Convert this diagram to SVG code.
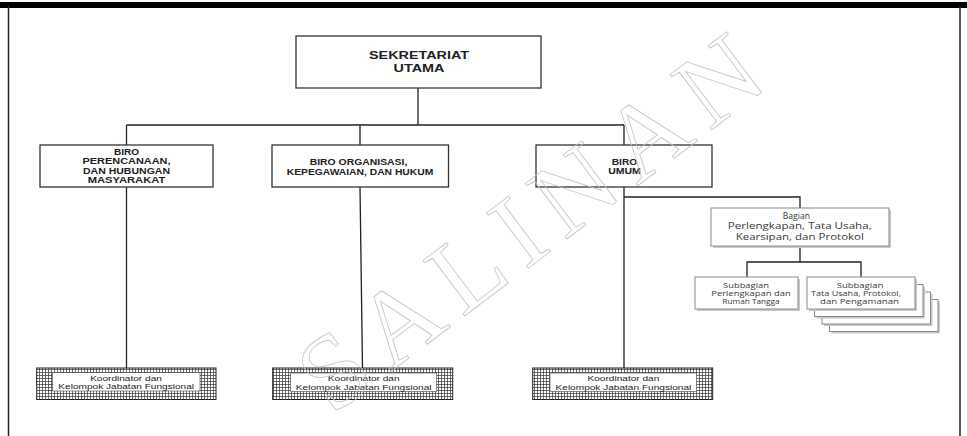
<svg xmlns="http://www.w3.org/2000/svg" width="967" height="436" viewBox="0 0 967 436">
  <style>
    .box { fill: #ffffff; stroke: #333333; stroke-width: 1.3; }
    .sbox { fill: #ffffff; stroke: #8a8a8a; stroke-width: 1; }
    .shadow { fill: #c8c8c8; }
    .conn { fill: none; stroke: #222222; stroke-width: 1.3; }
    .hb { font-family: "Liberation Sans", Arial, sans-serif; font-weight: bold; fill: #222222; text-anchor: middle; }
    .cal { font-family: "Open Sans", "Liberation Sans", sans-serif; fill: #3a3a3a; text-anchor: middle; }
    .ar { font-family: "Liberation Sans", Arial, sans-serif; fill: #222222; text-anchor: middle; font-size: 7.5px; }
    .grid { fill: url(#gridFill); stroke: #222222; stroke-width: 1; }
    .inner { fill: #ffffff; stroke: #444444; stroke-width: 0.6; }
    .wm { font-family: "Liberation Serif", "Times New Roman", serif; font-size: 106px; fill: none; stroke: #c4c4c4; stroke-width: 0.8; letter-spacing: 14px; text-anchor: middle; }
  </style>
  <defs>
    <pattern id="gridFill" width="3" height="3" patternUnits="userSpaceOnUse">
      <rect width="3" height="3" fill="#ffffff"/>
      <path d="M0 0.5H3M0.5 0V3" stroke="#333333" stroke-width="0.7"/>
    </pattern>
  </defs>

  <!-- page -->
  <rect x="0" y="0" width="967" height="436" fill="#ffffff"/>
  <rect x="0" y="2" width="967" height="6" fill="#000000"/>
  <line x1="8.5" y1="6" x2="8.5" y2="436" stroke="#222222" stroke-width="1.5"/>
  <line x1="960" y1="6" x2="960" y2="436" stroke="#222222" stroke-width="1.5"/>

  <!-- connectors -->
  <g id="connectors">
    <path class="conn" d="M418 88V125"/>
    <path class="conn" d="M126.5 125H624"/>
    <path class="conn" d="M126.5 125V145M360 125V145M624 125V145"/>
    <path class="conn" d="M126.5 187V368"/>
    <path class="conn" d="M360 187L362.5 368"/>
    <path class="conn" d="M624 187V368"/>
    <path class="conn" d="M624 197H800V208"/>
    <path class="conn" d="M800 246V262M747 277V262H861V277"/>
  </g>

  <g id="sekretariat-utama">
    <rect class="box" x="296" y="36" width="245" height="52"/>
    <text class="hb" x="419" y="59.3" font-size="11" textLength="100" lengthAdjust="spacingAndGlyphs">SEKRETARIAT</text>
    <text class="hb" x="419" y="71.7" font-size="11" textLength="51" lengthAdjust="spacingAndGlyphs">UTAMA</text>
  </g>

  <g id="biro-perencanaan">
    <rect class="box" x="40" y="145" width="173" height="42"/>
    <text class="hb" x="126.5" y="155" font-size="8.5" textLength="25" lengthAdjust="spacingAndGlyphs">BIRO</text>
    <text class="hb" x="126.5" y="164.3" font-size="8.5" textLength="88" lengthAdjust="spacingAndGlyphs">PERENCANAAN,</text>
    <text class="hb" x="126.5" y="174" font-size="8.5" textLength="87" lengthAdjust="spacingAndGlyphs">DAN HUBUNGAN</text>
    <text class="hb" x="126.5" y="183.3" font-size="8.5" textLength="77.6" lengthAdjust="spacingAndGlyphs">MASYARAKAT</text>
  </g>

  <g id="biro-organisasi">
    <rect class="box" x="272" y="145" width="176.5" height="42"/>
    <text class="hb" x="358.5" y="164.7" font-size="8.5" textLength="97.7" lengthAdjust="spacingAndGlyphs">BIRO ORGANISASI,</text>
    <text class="hb" x="360" y="175" font-size="8.5" textLength="146.6" lengthAdjust="spacingAndGlyphs">KEPEGAWAIAN,  DAN HUKUM</text>
  </g>

  <g id="biro-umum">
    <rect class="box" x="536" y="145" width="176" height="42"/>
    <text class="hb" x="624.5" y="165" font-size="8.5" textLength="25.6" lengthAdjust="spacingAndGlyphs">BIRO</text>
    <text class="hb" x="624.5" y="174.3" font-size="8.5" textLength="32.7" lengthAdjust="spacingAndGlyphs">UMUM</text>
  </g>

  <g id="bagian-perlengkapan">
    <rect class="shadow" x="713" y="210" width="178" height="38"/>
    <rect class="sbox" x="711" y="208" width="178" height="38"/>
    <text class="cal" x="796.4" y="219" font-size="8.5" textLength="27.3" lengthAdjust="spacingAndGlyphs">Bagian</text>
    <text class="cal" x="799.7" y="229.3" font-size="8.5" textLength="144" lengthAdjust="spacingAndGlyphs">Perlengkapan, Tata Usaha,</text>
    <text class="cal" x="799.8" y="240" font-size="8.5" textLength="128.3" lengthAdjust="spacingAndGlyphs">Kearsipan, dan Protokol</text>
  </g>

  <g id="subbagian-perlengkapan">
    <rect class="shadow" x="697" y="279" width="103" height="32"/>
    <rect class="sbox" x="695" y="277" width="103" height="32"/>
    <text class="cal" x="746" y="288" font-size="6.5" textLength="46" lengthAdjust="spacingAndGlyphs">Subbagian</text>
    <text class="cal" x="751" y="296" font-size="6.5" textLength="79.3" lengthAdjust="spacingAndGlyphs">Perlengkapan dan</text>
    <text class="cal" x="751" y="303.5" font-size="6.5" textLength="57.3" lengthAdjust="spacingAndGlyphs">Rumah Tangga</text>
  </g>

  <g id="subbagian-tata-usaha">
    <rect class="shadow" x="831.5" y="301.5" width="108.5" height="32"/>
    <rect class="sbox" x="829.5" y="299.5" width="108.5" height="32"/>
    <rect class="shadow" x="824" y="294" width="108.5" height="32"/>
    <rect class="sbox" x="822" y="292" width="108.5" height="32"/>
    <rect class="shadow" x="816.5" y="286.5" width="108.5" height="32"/>
    <rect class="sbox" x="814.5" y="284.5" width="108.5" height="32"/>
    <rect class="shadow" x="809" y="279" width="108" height="32"/>
    <rect class="sbox" x="807" y="277" width="108" height="32"/>
    <text class="cal" x="860" y="288" font-size="6.5" textLength="46.6" lengthAdjust="spacingAndGlyphs">Subbagian</text>
    <text class="cal" x="856" y="296" font-size="6.5" textLength="90" lengthAdjust="spacingAndGlyphs">Tata Usaha, Protokol,</text>
    <text class="cal" x="859.5" y="303.5" font-size="6.5" textLength="79" lengthAdjust="spacingAndGlyphs">dan Pengamanan</text>
  </g>

  <g id="koordinator-1">
    <rect class="grid" x="36.7" y="368" width="179.3" height="31.5"/>
    <rect class="inner" x="52.7" y="372.7" width="147.3" height="18.3"/>
    <text class="ar" x="126" y="380.7" textLength="71.7" lengthAdjust="spacingAndGlyphs">Koordinator dan</text>
    <text class="ar" x="126.2" y="389.3" textLength="135.7" lengthAdjust="spacingAndGlyphs">Kelompok Jabatan Fungsional</text>
  </g>

  <g id="koordinator-2">
    <rect class="grid" x="272.7" y="368" width="180" height="31.5"/>
    <rect class="inner" x="290.7" y="373" width="146" height="18.5"/>
    <text class="ar" x="363.7" y="380.9" textLength="71.7" lengthAdjust="spacingAndGlyphs">Koordinator dan</text>
    <text class="ar" x="363.7" y="389.6" textLength="135.7" lengthAdjust="spacingAndGlyphs">Kelompok Jabatan Fungsional</text>
  </g>

  <g id="koordinator-3">
    <rect class="grid" x="532.7" y="368" width="180" height="31.5"/>
    <rect class="inner" x="550" y="373" width="146.7" height="18.5"/>
    <text class="ar" x="623.4" y="380.9" textLength="71.7" lengthAdjust="spacingAndGlyphs">Koordinator dan</text>
    <text class="ar" x="623.4" y="389.6" textLength="135.7" lengthAdjust="spacingAndGlyphs">Kelompok Jabatan Fungsional</text>
  </g>

  <!-- outlined diagonal stamp -->
  <g id="watermark" pointer-events="none">
    <text class="wm" transform="translate(535 218) rotate(-37)" x="0" y="36">SALINAN</text>
  </g>
</svg>
